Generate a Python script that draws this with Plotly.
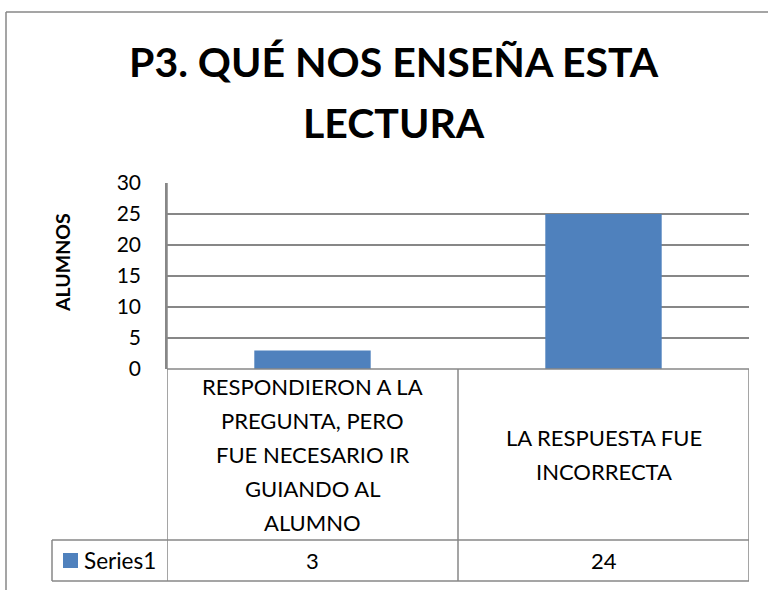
import plotly.graph_objects as go

# ---- data ----
categories = [
    "RESPONDIERON A LA|PREGUNTA, PERO|FUE NECESARIO IR|GUIANDO AL|ALUMNO",
    "LA RESPUESTA FUE|INCORRECTA",
]
bar_values = [3, 25]          # bar heights as drawn
table_values = ["3", "24"]    # values shown in the data table
series_name = "Series1"
y_ticks = [0, 5, 10, 15, 20, 25, 30]
title_lines = ["P3. QUÉ NOS ENSEÑA ESTA", "LECTURA"]
y_title = "ALUMNOS"

# ---- layout geometry (screen pixels) ----
SW, SH = 768, 590
L, R, T, B = 167, 749, 183, 369
GRID = "#878787"
BAR = "#4F81BD"
FONT = "Lato, 'Open Sans', sans-serif"


def px(x):
    return (x - L) / (R - L)


def py(y):
    return (B - y) / (B - T)


fig = go.Figure()
xs = list(range(len(categories)))
fig.add_trace(go.Bar(x=xs, y=bar_values, marker=dict(color=BAR, line=dict(width=0)),
                     width=0.4, name=series_name, showlegend=False, hoverinfo="y"))

shapes = []


def line(x0, y0, x1, y1, xref="paper"):
    shapes.append(dict(type="line", xref=xref, yref="paper", x0=x0, y0=y0, x1=x1, y1=y1,
                       line=dict(color=GRID, width=1.5), layer="above"))


# outer chart border (top and left)
line(px(6), py(12), px(790), py(12))
line(px(6), py(12), px(6), py(610))
# table horizontal lines
row1, row2 = 540, 581
line(px(L), py(B), px(R), py(B))
line(px(52), py(row1), px(R), py(row1))
line(px(52), py(row2), px(R), py(row2))
# table vertical lines at category boundaries
for b in [i - 0.5 for i in range(len(categories) + 1)]:
    line(b, py(T) if b == -0.5 else py(B), b, py(row2), xref="x")
line(px(52), py(row1), px(52), py(row2))
# legend key square
shapes.append(dict(type="rect", xref="paper", yref="paper", x0=px(63), x1=px(78),
                   y0=py(553), y1=py(568), fillcolor=BAR, line=dict(width=0)))

ann = []
# title
for i, t in enumerate(title_lines):
    ann.append(dict(text=f"<b>{t}</b>", x=px(394), y=py(62 + 60 * i), xref="paper", yref="paper",
                    showarrow=False, font=dict(family=FONT, size=41, color="black"),
                    xanchor="center", yanchor="middle"))
# y-axis title
ann.append(dict(text=f"<b>{y_title}</b>", x=px(62), y=py(263), xref="paper", yref="paper",
                showarrow=False, textangle=-90, font=dict(family=FONT, size=19.5, color="black"),
                xanchor="center", yanchor="middle"))
# category labels in table
center, step = 454, 34
for i, c in enumerate(categories):
    parts = c.split("|")
    n = len(parts)
    for j, p in enumerate(parts):
        yy = center + (j - (n - 1) / 2) * step
        ann.append(dict(text=p, x=i, y=py(yy), xref="x", yref="paper", showarrow=False,
                        font=dict(family=FONT, size=22, color="black"),
                        xanchor="center", yanchor="middle"))
# series row
ann.append(dict(text=series_name, x=px(82), y=py(560), xref="paper", yref="paper",
                showarrow=False, font=dict(family=FONT, size=22.5, color="black"),
                xanchor="left", yanchor="middle"))
for i, v in enumerate(table_values):
    ann.append(dict(text=v, x=i, y=py(560), xref="x", yref="paper", showarrow=False,
                    font=dict(family=FONT, size=22, color="black"),
                    xanchor="center", yanchor="middle"))

fig.update_layout(
    width=SW, height=SH,
    margin=dict(l=L, r=SW - R, t=T, b=SH - B, pad=0),
    paper_bgcolor="white", plot_bgcolor="white",
    shapes=shapes, annotations=ann, showlegend=False,
    xaxis=dict(range=[-0.5, len(categories) - 0.5], showticklabels=False, showgrid=False,
               zeroline=False, showline=False, fixedrange=True),
    yaxis=dict(range=[0, 30], tickvals=y_ticks, showgrid=True, gridcolor=GRID, gridwidth=1.5,
               zeroline=False, showline=True, linecolor=GRID, linewidth=1.5, ticks="",
               ticklabelstandoff=20,
               tickfont=dict(family=FONT, size=21, color="black"), fixedrange=True),
    bargap=0.6,
)

fig.write_html("out.html", config={"displayModeBar": False},
               post_script="document.body.style.margin='0';document.body.style.overflow='hidden';")
